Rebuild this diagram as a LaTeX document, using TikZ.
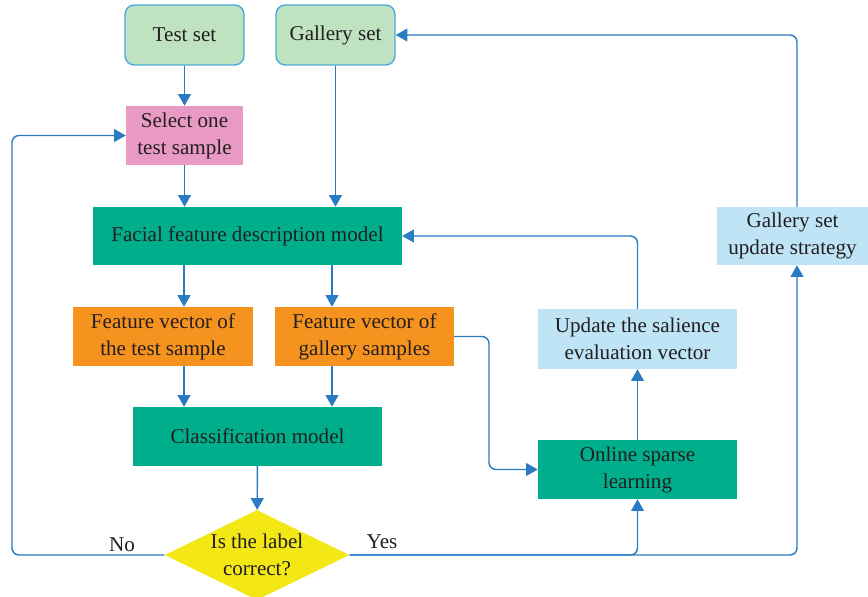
\documentclass[tikz,border=0pt]{standalone}
\usepackage{fontspec}
\setmainfont{Liberation Serif}
\usetikzlibrary{arrows.meta,shapes.geometric}
\definecolor{txt}{HTML}{231F20}
\definecolor{setfill}{HTML}{BFE2C1}
\definecolor{setedge}{HTML}{4BA9DC}
\definecolor{pickfill}{HTML}{E99AC4}
\definecolor{modelfill}{HTML}{00AE8B}
\definecolor{vecfill}{HTML}{F6921E}
\definecolor{infofill}{HTML}{BEE4F5}
\definecolor{askfill}{HTML}{F3E816}
\definecolor{linkcol}{HTML}{2A7BC1}
\begin{document}
\begin{tikzpicture}[x=0.03cm,y=-0.03cm,font=\fontsize{18}{23}\selectfont,line join=round,>={Triangle[length=10pt,width=11pt]},
	every node/.style={text=txt,align=center,inner sep=2pt},
	setbox/.style={draw=setedge,line width=1.2pt,fill=setfill,rounded corners=8pt,minimum width=3.57cm,minimum height=1.8cm},
	pickbox/.style={fill=pickfill,minimum width=3.51cm,minimum height=1.77cm},
	modelbox/.style={fill=modelfill,minimum height=1.77cm},
	vecbox/.style={fill=vecfill,minimum width=5.4cm,minimum height=1.77cm},
	infobox/.style={fill=infofill,minimum height=1.77cm},
	askbox/.style={diamond,fill=askfill,inner sep=0pt,aspect=2.2,minimum width=5.34cm,minimum height=2.7cm},
	link/.style={->,draw=linkcol,line width=1.2pt,rounded corners=6pt}]
	\useasboundingbox (0,0) rectangle (868,597);
	% boxes
	\node[setbox] (test) at (184.5,35) {Test set};
	\node[setbox] (gal) at (335.5,35) {Gallery set};
	\node[pickbox] (pick) at (184.5,135.5) {Select one\\test sample};
	\node[modelbox,minimum width=9.27cm,minimum height=1.74cm] (facial) at (247.5,236) {Facial feature description model};
	\node[vecbox] (vtest) at (163,336.5) {Feature vector of\\the test sample};
	\node[vecbox,minimum width=5.37cm] (vgal) at (364.5,336.5) {Feature vector of\\gallery samples};
	\node[modelbox,minimum width=7.47cm] (cls) at (257.5,436.5) {Classification model};
	\node[askbox] (ask) at (257,555) {Is the label\\correct?};
	\node[modelbox,minimum width=5.97cm] (osl) at (637.5,469.5) {Online sparse\\learning};
	\node[infobox,minimum width=5.97cm,minimum height=1.8cm] (sal) at (637.5,339) {Update the salience\\evaluation vector};
	\node[infobox,minimum width=4.53cm,minimum height=1.74cm] (upd) at (792.5,236) {Gallery set\\update strategy};
	% helper columns
	\coordinate (lx) at (184,0);
	\coordinate (gx) at (332,0);
	\coordinate (mx) at (489,0);
	\coordinate (bx) at (12,0);
	\coordinate (rx) at (797,0);
	% connectors
	\draw[link] (test) -- (pick);
	\draw[link] (gal) -- (gal |- facial.north);
	\draw[link] (pick) -- (pick |- facial.north);
	\draw[link] (facial.south -| lx) -- (vtest.north -| lx);
	\draw[link] (facial.south -| gx) -- (vgal.north -| gx);
	\draw[link] (vtest.south -| lx) -- (cls.north -| lx);
	\draw[link] (vgal.south -| gx) -- (cls.north -| gx);
	\draw[link] (cls) -- (ask);
	\draw[link] (ask.west) -- (ask.west -| bx) |- (pick.west);
	\draw[link] (ask.east) -| (osl.south);
	\draw[link] (ask.east) -| (upd.south -| rx);
	\draw[link] (vgal.east) -- (vgal.east -| mx) |- (osl.west);
	\draw[link] (osl) -- (sal);
	\draw[link] (sal.north) |- (facial.east);
	\draw[link] (upd.north -| rx) |- (gal.east);
	\node (no) at (122,545) {No};
	\node (yes) at (382,542) {Yes};
\end{tikzpicture}
\end{document}
